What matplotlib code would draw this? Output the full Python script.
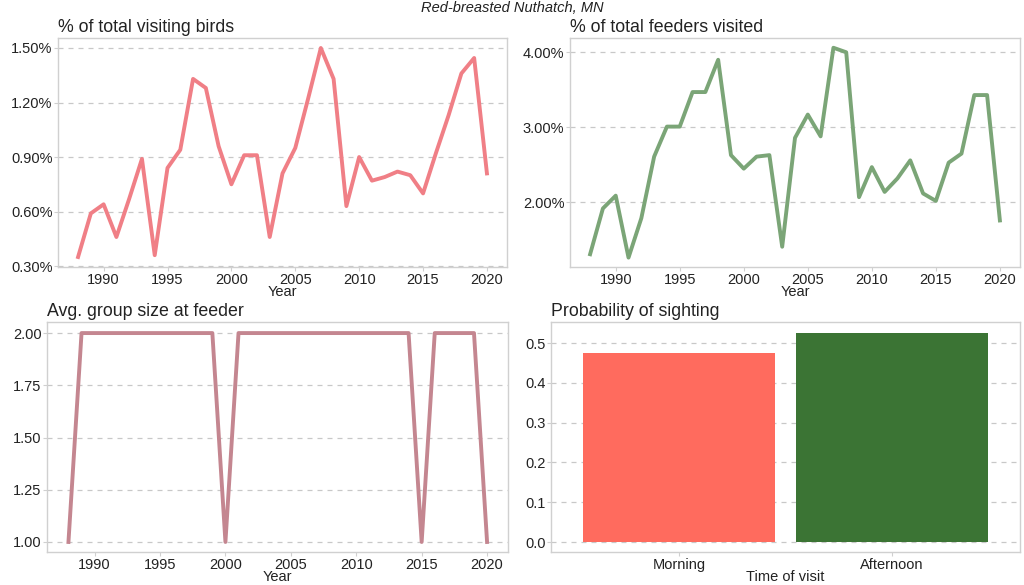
import matplotlib
matplotlib.use("Agg")
import matplotlib.pyplot as plt
from matplotlib.ticker import FuncFormatter

plt.rcParams['font.family'] = ['Liberation Sans', 'DejaVu Sans']

# ---------------------------------------------------------------------------
# data
# ---------------------------------------------------------------------------
years = list(range(1988, 2021))

pct_birds = [0.35, 0.59, 0.64, 0.46, 0.67, 0.89, 0.36, 0.84, 0.94, 1.33,
             1.28, 0.96, 0.75, 0.91, 0.91, 0.46, 0.81, 0.95, 1.22, 1.50,
             1.33, 0.63, 0.90, 0.77, 0.79, 0.82, 0.80, 0.70, 0.92, 1.13,
             1.36, 1.445, 0.81]

pct_feeders = [1.31, 1.92, 2.09, 1.265, 1.79, 2.61, 3.01, 3.01, 3.47, 3.47,
               3.90, 2.63, 2.45, 2.61, 2.63, 1.41, 2.86, 3.17, 2.88, 4.06,
               4.00, 2.07, 2.47, 2.14, 2.32, 2.56, 2.12, 2.02, 2.53, 2.65,
               3.43, 3.43, 1.76]

group_size = [1, 2, 2, 2, 2, 2, 2, 2, 2, 2,
              2, 2, 1, 2, 2, 2, 2, 2, 2, 2,
              2, 2, 2, 2, 2, 2, 2, 1, 2, 2,
              2, 2, 1]

times = ['Morning', 'Afternoon']
prob_sighting = [0.474, 0.526]

# ---------------------------------------------------------------------------
# figure
# ---------------------------------------------------------------------------
W, H = 1024, 585
fig = plt.figure(figsize=(W / 100, H / 100), dpi=100)


def box(left, top, right, bottom):
    return [left / W, 1 - bottom / H, (right - left) / W, (bottom - top) / H]


def style(ax, title):
    for s in ax.spines.values():
        s.set_color('#d0d0d0')
        s.set_linewidth(1.0)
    ax.yaxis.grid(True, linestyle=(0, (4, 4)), color='#c8c8c8', linewidth=0.9)
    ax.xaxis.grid(False)
    ax.set_axisbelow(True)
    ax.tick_params(axis='both', labelsize=10.5, colors='#d0d0d0',
                   labelcolor='#222222', length=3, pad=1)
    ax.set_title(title, loc='left', fontsize=12.8, color='#222222', pad=4)


fig.text(0.5, 0.999, 'Red-breasted Nuthatch, MN', ha='center', va='top',
         fontsize=10.5, style='italic', color='#222222')

pct_fmt = FuncFormatter(lambda v, p: f'{v:.2f}%')

# top left
ax1 = fig.add_axes(box(58, 38, 507, 267))
ax1.plot(years, pct_birds, color='#F07F86', linewidth=2.8)
ax1.set_xlim(1986.43, 2021.57)
ax1.set_ylim(0.295, 1.555)
ax1.set_yticks([0.3, 0.6, 0.9, 1.2, 1.5])
ax1.yaxis.set_major_formatter(pct_fmt)
ax1.set_xticks([1990, 1995, 2000, 2005, 2010, 2015, 2020])
ax1.set_xlabel('Year', fontsize=10.5, labelpad=-1, color='#222222')
style(ax1, '% of total visiting birds')

# top right
ax2 = fig.add_axes(box(570, 38, 1020, 267))
ax2.plot(years, pct_feeders, color='#7BA577', linewidth=2.8)
ax2.set_xlim(1986.43, 2021.57)
ax2.set_ylim(1.14, 4.19)
ax2.set_yticks([2, 3, 4])
ax2.yaxis.set_major_formatter(pct_fmt)
ax2.set_xticks([1990, 1995, 2000, 2005, 2010, 2015, 2020])
ax2.set_xlabel('Year', fontsize=10.5, labelpad=-1, color='#222222')
style(ax2, '% of total feeders visited')

# bottom left
ax3 = fig.add_axes(box(47, 322, 508, 552))
ax3.plot(years, group_size, color='#C48690', linewidth=2.8)
ax3.set_xlim(1986.36, 2021.6)
ax3.set_ylim(0.952, 2.053)
ax3.set_yticks([1.0, 1.25, 1.5, 1.75, 2.0])
ax3.yaxis.set_major_formatter(FuncFormatter(lambda v, p: f'{v:.2f}'))
ax3.set_xticks([1990, 1995, 2000, 2005, 2010, 2015, 2020])
ax3.set_xlabel('Year', fontsize=10.5, labelpad=-1, color='#222222')
style(ax3, 'Avg. group size at feeder')

# bottom right
ax4 = fig.add_axes(box(551, 322, 1020, 552))
ax4.bar(range(len(times)), prob_sighting, width=0.9,
        color=['#FF6B5E', '#3B7434'])
ax4.set_xlim(-0.6, 1.6)
ax4.set_ylim(-0.025, 0.553)
ax4.set_yticks([0.0, 0.1, 0.2, 0.3, 0.4, 0.5])
ax4.yaxis.set_major_formatter(FuncFormatter(lambda v, p: f'{v:.1f}'))
ax4.set_xticks(range(len(times)))
ax4.set_xticklabels(times)
ax4.set_xlabel('Time of visit', fontsize=10.5, labelpad=-1, color='#222222')
style(ax4, 'Probability of sighting')

fig.savefig('out.png', dpi=100, facecolor='white')
